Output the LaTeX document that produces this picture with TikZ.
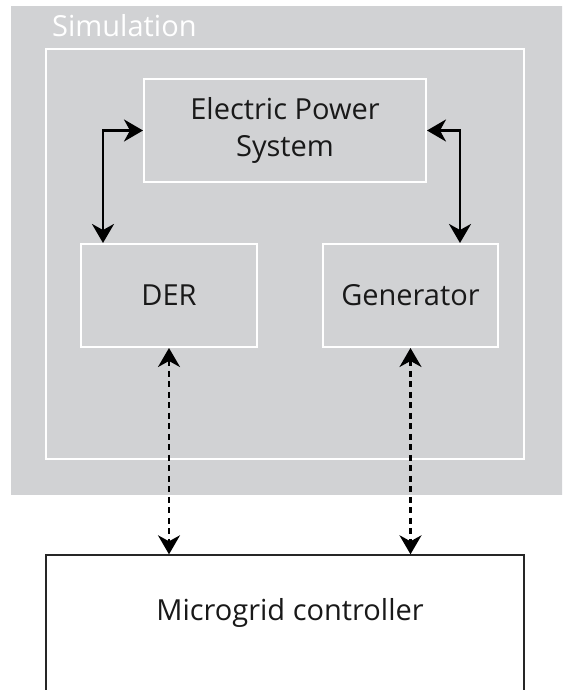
\documentclass[tikz,border=0pt]{standalone}
\usepackage{fontspec}
\setmainfont{Open Sans}
\usetikzlibrary{arrows.meta}
\definecolor{simgray}{HTML}{D1D2D4}
\tikzset{
  simbox/.style={draw=white, line width=2pt, rectangle, inner sep=0pt, font=\fontsize{29}{37}\selectfont, text=black!90, align=center},
  biarrow/.style={line width=2.6pt, {Stealth[length=19pt,width=22pt,inset=6pt]}-{Stealth[length=19pt,width=22pt,inset=6pt]}},
  dasharrow/.style={line width=2.3pt, dash pattern=on 6pt off 4.5pt, {Stealth[length=19pt,width=22pt,inset=6pt]}-{Stealth[length=19pt,width=22pt,inset=6pt]}},
}
\begin{document}
\begin{tikzpicture}[x=1pt,y=-1pt]
\useasboundingbox (0,0) rectangle (562,690);
\clip (0,0) rectangle (562,690);
\fill[simgray] (11,6) rectangle (570,495);
\node[draw=white, line width=2pt, rectangle, minimum width=478pt, minimum height=410pt] (sim) at (285,254) {};
\node[anchor=base west, text=white, font=\fontsize{29}{35}\selectfont, inner sep=0pt] (simlabel) at (52,37) {Simulation};
\node[simbox, minimum width=282pt, minimum height=103pt] (eps) at (285,130.5) {Electric Power\\System};
\node[simbox, minimum width=176pt, minimum height=103pt] (der) at (169,295.5) {DER};
\node[simbox, minimum width=175pt, minimum height=103pt] (gen) at (410.5,295.5) {Generator};
\node[draw=black!85, line width=1.4pt, rectangle, fill=white, minimum width=478pt, minimum height=150pt] (mg) at (285,630) {};
\node[font=\fontsize{29}{35}\selectfont, text=black!90] (mglabel) at (290,613) {Microgrid controller};
\draw[biarrow] ([xshift=23pt]der.north west) |- (eps.west);
\draw[biarrow] ([xshift=-39pt]gen.north east) |- (eps.east);
\draw[dasharrow] (der.south) -- (der.south |- mg.north);
\draw[dasharrow] (gen.south) -- (gen.south |- mg.north);
\end{tikzpicture}
\end{document}
